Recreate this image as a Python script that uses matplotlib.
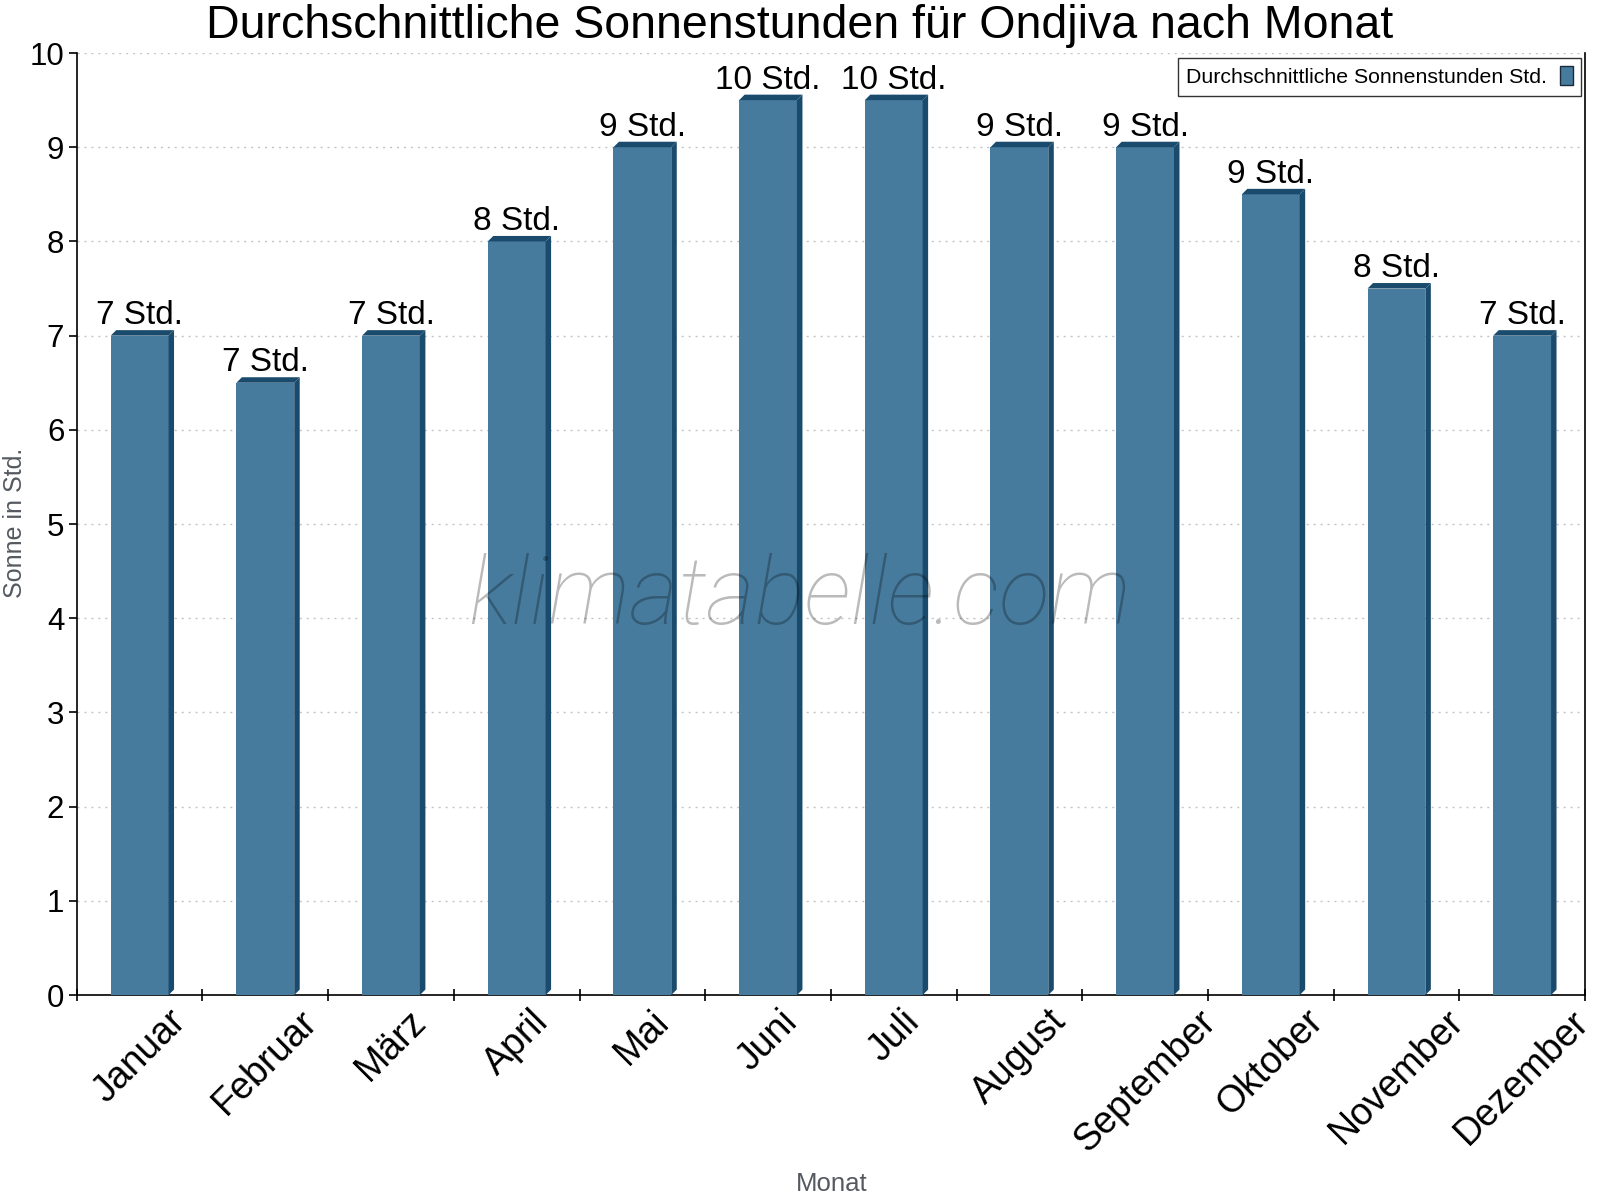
"""Durchschnittliche Sonnenstunden für Ondjiva - Balkendiagramm mit 3D-Effekt."""

import matplotlib
matplotlib.use("Agg")
import matplotlib.pyplot as plt
from matplotlib.patches import Polygon
import numpy as np

plt.rcParams['font.family'] = ['Liberation Sans', 'DejaVu Sans']

# Daten
monate = ['Januar', 'Februar', 'März', 'April', 'Mai', 'Juni', 'Juli',
          'August', 'September', 'Oktober', 'November', 'Dezember']
sonnenstunden = [7, 6.5, 7, 8, 9, 9.5, 9.5, 9, 9, 8.5, 7.5, 7]
beschriftung = [7, 7, 7, 8, 9, 10, 10, 9, 9, 9, 8, 7]

FRONT = '#467b9e'
SEITE = '#1a4b6c'

fig = plt.figure(figsize=(16, 12), dpi=100)
ax = fig.add_axes([0.048, 0.1708, 0.9426, 0.785])

x = np.arange(len(monate))
breite = 0.46
ax.set_xlim(-0.5, len(monate) - 0.5)
ax.set_ylim(0, 10)

# Tiefe des 3D-Effekts in Pixeln -> Dateneinheiten
tiefe_px = 5.5
bbox = ax.get_window_extent()
dx = tiefe_px * (len(monate)) / bbox.width
dy = tiefe_px * 10 / bbox.height

ax.bar(x, sonnenstunden, width=breite, color=FRONT, zorder=3)
for xi, v in zip(x, sonnenstunden):
    x0, x1 = xi - breite / 2, xi + breite / 2
    seite = Polygon([(x1, 0), (x1 + dx, dy), (x1 + dx, v + dy), (x1, v)],
                    closed=True, facecolor=SEITE, edgecolor='none', zorder=3)
    deckel = Polygon([(x0, v), (x0 + dx, v + dy), (x1 + dx, v + dy), (x1, v)],
                     closed=True, facecolor=SEITE, edgecolor='none', zorder=3)
    ax.add_patch(seite)
    ax.add_patch(deckel)

for xi, v, lab in zip(x, sonnenstunden, beschriftung):
    ax.text(xi, v + dy * 2.1, f'{lab} Std.', ha='center', va='baseline',
            fontsize=24, color='black', zorder=5)

# Achsen
ax.spines['top'].set_visible(False)
ax.spines['left'].set_linewidth(1.2)
ax.spines['bottom'].set_linewidth(1.2)
ax.spines['right'].set_linewidth(1.2)

ax.set_yticks(range(0, 11))
ax.tick_params(axis='y', labelsize=22.5, length=6, width=1.2, direction='out', pad=3)
ax.set_xticks(x)
ax.set_xticklabels(monate, rotation=45, ha='center', va='top', fontsize=27)
ax.set_xticks(np.arange(-0.5, len(monate)), minor=True)
ax.tick_params(axis='x', which='major', length=0, pad=6)
ax.tick_params(axis='x', which='minor', length=9, width=1.2, direction='inout')

ax.yaxis.grid(True, linestyle=(0, (1.5, 3.5)), color='#c4c4c4', linewidth=1, zorder=0)
ax.set_axisbelow(True)

fig.text(0.52, 0.0135, 'Monat', ha='center', va='center',
         fontsize=18.5, color='#555a60')
fig.text(0.0095, 0.564, 'Sonne in Std.', rotation=90, ha='center', va='center',
         fontsize=18, color='#555a60')

fig.text(0.5, 0.968, 'Durchschnittliche Sonnenstunden für Ondjiva nach Monat',
         ha='center', va='baseline', fontsize=33.5)

# Wasserzeichen
fig.text(0.5, 0.48, 'klimatabelle.com', ha='center', va='baseline',
         fontsize=67.5, family=['Roboto', 'DejaVu Sans'], style='italic',
         weight='light', color='black', alpha=0.27, zorder=10)

leg = ax.legend([plt.Rectangle((0, 0), 1, 1, facecolor=FRONT, edgecolor='#1a2a3a')],
                ['Durchschnittliche Sonnenstunden Std.'], loc='upper right',
                bbox_to_anchor=(0.9975, 0.995), markerfirst=False, fontsize=15.3,
                frameon=True, fancybox=False, handlelength=0.6, handleheight=1.0,
                borderpad=0.4, handletextpad=0.6, borderaxespad=0)
leg.get_frame().set_edgecolor('black')
leg.get_frame().set_linewidth(1.0)

fig.savefig('out.png', dpi=100)
